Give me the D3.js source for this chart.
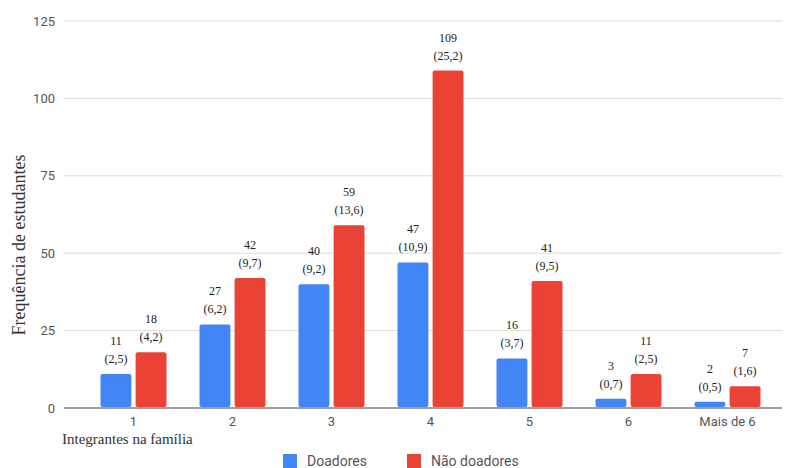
<html>
<head>
<meta charset="UTF-8">
<script src="https://d3js.org/d3.v7.min.js"></script>
<style>
  body { margin: 0; background: #fff; }
</style>
</head>
<body>
<svg id="chart" width="786" height="468"></svg>
<script>
// data
let categories = ['1', '2', '3', '4', '5', '6', 'Mais de 6'];
let doadores = [11, 27, 40, 47, 16, 3, 2];
let doadoresPct = ['2,5', '6,2', '9,2', '10,9', '3,7', '0,7', '0,5'];
let naoDoadores = [18, 42, 59, 109, 41, 11, 7];
let naoDoadoresPct = ['4,2', '9,7', '13,6', '25,2', '9,5', '2,5', '1,6'];
let yTicks = [0, 25, 50, 75, 100, 125];
let seriesNames = ['Doadores', 'Não doadores'];
let colors = ['#4285F4', '#EA4335'];

let svg = d3.select('svg#chart');
let margins = {top: 21, right: 4, bottom: 60, left: 64};

let y = d3.scaleLinear()
          .domain([0, 125])
          .range([408, margins.top]);

let x = d3.scaleBand()
          .domain(categories)
          .range([84, 777]);

let sub = d3.scaleBand()
            .domain([0, 1])
            .range([x.bandwidth() / 2 - 33, x.bandwidth() / 2 + 33])
            .paddingInner(0.12);

// gridlines + y labels
yTicks.forEach(t => {
    svg.append('line')
       .attr('x1', margins.left)
       .attr('x2', 782)
       .attr('y1', y(t))
       .attr('y2', y(t))
       .attr('stroke', t === 0 ? '#9e9e9e' : '#dcdcdc')
       .attr('stroke-width', t === 0 ? 2 : 1);
    svg.append('text')
       .attr('x', 55)
       .attr('y', y(t))
       .attr('dy', '0.35em')
       .attr('text-anchor', 'end')
       .attr('font-family', 'Roboto, sans-serif')
       .attr('font-size', 13)
       .attr('fill', '#555')
       .text(t);
});

// bars and labels
let series = [
    {vals: doadores, pct: doadoresPct},
    {vals: naoDoadores, pct: naoDoadoresPct}
];
series.forEach((s, si) => {
    categories.forEach((c, i) => {
        let bx = x(c) + sub(si);
        let v = s.vals[i];
        svg.append('rect')
           .attr('x', bx)
           .attr('y', y(v))
           .attr('width', sub.bandwidth())
           .attr('height', y(0) - y(v) - 1)
           .attr('rx', 2)
           .attr('fill', colors[si]);
        let cx = bx + sub.bandwidth() / 2;
        svg.append('text')
           .attr('x', cx)
           .attr('y', y(v) - 11)
           .attr('text-anchor', 'middle')
           .attr('font-family', 'Liberation Serif, serif')
           .attr('font-size', 12)
           .attr('fill', '#222')
           .text('(' + s.pct[i] + ')');
        svg.append('text')
           .attr('x', cx)
           .attr('y', y(v) - 29)
           .attr('text-anchor', 'middle')
           .attr('font-family', 'Liberation Serif, serif')
           .attr('font-size', 12)
           .attr('fill', '#222')
           .text(v);
    });
});

// x tick labels
categories.forEach(c => {
    svg.append('text')
       .attr('x', x(c) + x.bandwidth() / 2)
       .attr('y', 426)
       .attr('text-anchor', 'middle')
       .attr('font-family', 'Roboto, sans-serif')
       .attr('font-size', 13)
       .attr('fill', '#555')
       .text(c);
});

// axis titles
svg.append('text')
   .attr('x', 62)
   .attr('y', 444)
   .attr('font-family', 'Liberation Serif, serif')
   .attr('font-size', 15)
   .attr('fill', '#333')
   .text('Integrantes na família');

svg.append('text')
   .attr('transform', 'translate(25,' + 245 + ') rotate(-90)')
   .attr('text-anchor', 'middle')
   .attr('font-family', 'Liberation Serif, serif')
   .attr('font-size', 18)
   .attr('fill', '#333')
   .text('Frequência de estudantes');

// legend
let legendX = [283, 407];
seriesNames.forEach((n, i) => {
    svg.append('rect')
       .attr('x', legendX[i])
       .attr('y', 454)
       .attr('width', 14)
       .attr('height', 14)
       .attr('fill', colors[i]);
    svg.append('text')
       .attr('x', legendX[i] + 24)
       .attr('y', 466)
       .attr('font-family', 'Roboto, sans-serif')
       .attr('font-size', 14)
       .attr('fill', '#555')
       .text(n);
});
</script>
</body>
</html>
